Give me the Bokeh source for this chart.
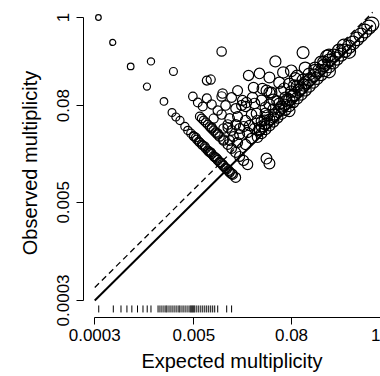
import numpy as np
from bokeh.plotting import figure
from bokeh.models import Range1d, FixedTicker, CustomJSTickFormatter
from bokeh.embed import file_html
from bokeh.resources import INLINE

# ---- data ----
arc_expected = [0.000333, 0.0005, 0.000832, 0.00148, 0.0028, 0.00132, 0.00214, 0.00269, 0.0030, 0.00337, 0.00388, 0.00422]
arc_observed = [1.0, 0.489, 0.246, 0.284, 0.213, 0.138, 0.0901, 0.0656, 0.0577, 0.0522, 0.0439, 0.0392]

band1_expected = [0.0046, 0.0050, 0.00544, 0.00592, 0.00644, 0.00702, 0.00763, 0.0083, 0.00904, 0.00984, 0.0107,
                  0.0116, 0.0127, 0.0138, 0.0150, 0.0164, 0.00682, 0.00807, 0.00956, 0.0113, 0.0134, 0.00529,
                  0.00575, 0.00626, 0.00742, 0.00878, 0.0104, 0.0123, 0.0146, 0.00494, 0.00785, 0.0093]
band1_observed = [0.0360, 0.0330, 0.0303, 0.0278, 0.0255, 0.0234, 0.0215, 0.0200, 0.0183, 0.0168, 0.0155,
                  0.0142, 0.0130, 0.0119, 0.0111, 0.0102, 0.0248, 0.0209, 0.0175, 0.0148, 0.0124, 0.0321,
                  0.0286, 0.0262, 0.0221, 0.0188, 0.0159, 0.0134, 0.0114, 0.0335, 0.0209, 0.0180]

band2_expected = [0.00592, 0.00662, 0.00742, 0.0083, 0.0093, 0.0104, 0.0116, 0.0131, 0.0146, 0.0164, 0.0183,
                  0.0205, 0.0230, 0.00702, 0.00785, 0.00878, 0.00984, 0.0393, 0.0427,
                  0.00626, 0.0083, 0.00984, 0.0116]
band2_observed = [0.0585, 0.0522, 0.0465, 0.0415, 0.0370, 0.0330, 0.0294, 0.0262, 0.0234, 0.0209, 0.0186,
                  0.0166, 0.0148, 0.0493, 0.0439, 0.0392, 0.0349, 0.0175, 0.0152,
                  0.0552, 0.0427, 0.0360, 0.0303]

cloud_expected = [0.0110, 0.111, 0.0506, 0.00722, 0.00807, 0.0236, 0.0322, 0.0427, 0.0633, 0.0889, 0.0272,
                  0.00486, 0.00722, 0.0110, 0.0146, 0.0173, 0.0199, 0.0350, 0.0452, 0.0652, 0.0864, 0.118, 0.105,
                  0.00559, 0.00644, 0.0083, 0.00984, 0.0123, 0.0164, 0.0217, 0.0280, 0.0341, 0.0427, 0.0535,
                  0.0690, 0.0816, 0.156, 0.201, 0.232,
                  0.00878, 0.0110, 0.0138, 0.0173, 0.0217, 0.0257, 0.0305, 0.0382, 0.0478, 0.0599,
                  0.0116, 0.0146, 0.0183, 0.0230, 0.0280, 0.0341, 0.0138, 0.0173, 0.0217, 0.0257,
                  0.0205, 0.0164, 0.0131, 0.0154, 0.0393, 0.0264, 0.0223, 0.0113, 0.0194, 0.0296,
                  0.0371, 0.0131, 0.0183, 0.0243, 0.0322]
cloud_observed = [0.377, 0.366, 0.284, 0.164, 0.169, 0.190, 0.201, 0.179, 0.207, 0.174, 0.134,
                  0.104, 0.0982, 0.104, 0.101, 0.123, 0.0927, 0.130, 0.116, 0.130, 0.142, 0.155, 0.130,
                  0.0875, 0.0780, 0.0826, 0.0695, 0.0803, 0.0737, 0.0780, 0.0850, 0.0927, 0.0826, 0.0901,
                  0.0927, 0.104, 0.219, 0.276, 0.337,
                  0.0552, 0.0619, 0.0552, 0.0585, 0.0522, 0.0619, 0.0522, 0.0638, 0.0568, 0.0780,
                  0.0415, 0.0392, 0.0349, 0.0370, 0.0415, 0.0439, 0.0294, 0.0278, 0.0262, 0.0312,
                  0.0439, 0.0465, 0.0465, 0.0330, 0.123, 0.101, 0.0875, 0.113, 0.0803, 0.0638,
                  0.0522, 0.0427, 0.0415, 0.0452, 0.0392]

diag_expected = [0.0305, 0.0341, 0.0382, 0.0427, 0.0478, 0.0535, 0.0599, 0.0671, 0.0750, 0.0839, 0.0940,
                 0.105, 0.118, 0.132, 0.148, 0.165, 0.185, 0.207, 0.232, 0.260, 0.290, 0.326, 0.364, 0.408,
                 0.457, 0.511, 0.572, 0.641, 0.718, 0.782,
                 0.0322, 0.0371, 0.0427, 0.0492, 0.0566, 0.0652, 0.0750, 0.0864, 0.0995, 0.1146, 0.132,
                 0.152, 0.175, 0.201, 0.232, 0.267, 0.308, 0.354,
                 0.0341, 0.0404, 0.0478, 0.0566, 0.0671, 0.0794, 0.0940, 0.111, 0.132, 0.156, 0.185, 0.219,
                 0.0382, 0.0478, 0.0599, 0.0750, 0.0940, 0.118,
                 0.0427, 0.0566, 0.0794,
                 0.0750, 0.232, 0.408]
diag_observed = [0.0323, 0.0361, 0.0405, 0.0452, 0.0506, 0.0567, 0.0634, 0.0711, 0.0794, 0.0889, 0.0995,
                 0.111, 0.125, 0.140, 0.157, 0.175, 0.196, 0.219, 0.246, 0.275, 0.307, 0.345, 0.385, 0.432,
                 0.484, 0.541, 0.606, 0.679, 0.760, 0.828,
                 0.0405, 0.0467, 0.0537, 0.0619, 0.0712, 0.0820, 0.0944, 0.109, 0.125, 0.144, 0.166,
                 0.191, 0.220, 0.253, 0.292, 0.336, 0.387, 0.445,
                 0.0509, 0.0604, 0.0714, 0.0846, 0.100, 0.119, 0.140, 0.166, 0.197, 0.233, 0.276, 0.327,
                 0.0760, 0.0951, 0.119, 0.149, 0.187, 0.235,
                 0.116, 0.154, 0.217,
                 0.0689, 0.213, 0.375]

rug_expected = [0.000336, 0.000508, 0.000632, 0.000748, 0.00086, 0.00101, 0.00118, 0.00133, 0.00148,
                0.00181, 0.00191, 0.00202, 0.00214, 0.00226, 0.00233, 0.00247, 0.00261, 0.00276, 0.00292,
                0.00309, 0.00327, 0.00337, 0.00357, 0.00377, 0.00399, 0.00423, 0.00447, 0.00460, 0.00473,
                0.00486, 0.00500, 0.00514, 0.00544, 0.00575, 0.00609, 0.00644, 0.00682, 0.00721, 0.00763,
                0.00807, 0.00854, 0.00904, 0.00984, 0.0127, 0.0146]

tick_values = [0.0003, 0.005, 0.08, 1]
tick_labels = ["0.0003", "0.005", "0.08", "1"]
line_x = [0.0003, 0.8]
dashed_factor = 1.45

expected = arc_expected + band1_expected + band2_expected + cloud_expected + diag_expected
observed = arc_observed + band1_observed + band2_observed + cloud_observed + diag_observed

# ---- figure ----
FONT = "Liberation Sans"
p = figure(width=380, height=376, x_axis_type="log", y_axis_type="log",
           x_range=Range1d(0.000218, 1.0), y_range=Range1d(0.000184, 1.294),
           output_backend="svg", toolbar_location=None,
           min_border_left=83, min_border_right=0, min_border_top=8, min_border_bottom=59,
           x_axis_label="Expected multiplicity", y_axis_label="Observed multiplicity")
p.outline_line_color = None
p.grid.visible = False
p.background_fill_color = "white"
p.border_fill_color = "white"

# reference lines
p.line(line_x, line_x, line_color="black", line_width=2)
p.line(line_x, [v * dashed_factor for v in line_x], line_color="black", line_width=1.3, line_dash="6 4")

# points (size grows with expected value)
sizes = 5.5 + 2.5 * (np.log10(np.array(expected)) + 3.52)
p.scatter(expected, observed, size=sizes, marker="circle", fill_color=None,
          line_color="black", line_width=1.2)

# rug
p.scatter(rug_expected, [0.000235] * len(rug_expected), marker="dash", angle=np.pi / 2,
          size=7, line_color="black", line_width=1)

fmt = CustomJSTickFormatter(args=dict(vals=tick_values, labs=tick_labels), code="""
let best = 0;
for (let i = 0; i < vals.length; i++) {
  if (Math.abs(Math.log10(vals[i]) - Math.log10(tick)) < Math.abs(Math.log10(vals[best]) - Math.log10(tick))) best = i;
}
return labs[best];
""")

for ax in (p.xaxis[0], p.yaxis[0]):
    ax.ticker = FixedTicker(ticks=tick_values)
    ax.formatter = fmt
    ax.bounds = (0.0003, 1)
    ax.major_tick_out = 7
    ax.major_tick_in = 0
    ax.minor_tick_out = 0
    ax.minor_tick_in = 0
    ax.axis_line_color = "black"
    ax.axis_line_width = 1
    ax.major_tick_line_color = "black"
    ax.major_label_text_font = FONT
    ax.major_label_text_font_size = "17px"
    ax.major_label_text_color = "black"
    ax.axis_label_text_font = FONT
    ax.axis_label_text_font_size = "20px"
    ax.axis_label_text_font_style = "normal"
    ax.axis_label_text_color = "black"

p.yaxis[0].major_label_orientation = "vertical"
p.yaxis[0].major_label_standoff = 7
p.yaxis[0].axis_label_standoff = 14
p.xaxis[0].major_label_standoff = 4
p.xaxis[0].axis_label_standoff = 6

open("out.html", "w").write(file_html(p, INLINE))
